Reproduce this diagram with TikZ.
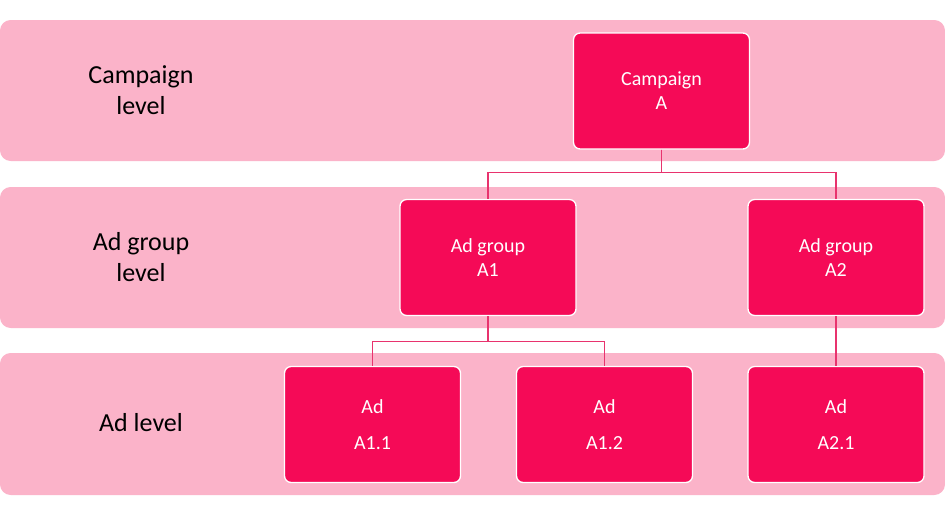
\documentclass[tikz,border=0pt]{standalone}
\usepackage{fontspec}
\setmainfont{Carlito}
\definecolor{band}{HTML}{FBB3C9}
\definecolor{boxc}{HTML}{F50A57}
\definecolor{linec}{HTML}{E8336E}
\begin{document}
\begin{tikzpicture}[x=0.75pt,y=-0.75pt,
  bandbox/.style={fill=band,draw=none,rounded corners=8pt},
  ent/.style={fill=boxc,draw=white,line width=1pt,rounded corners=5pt,minimum width=176*0.75pt,minimum height=116*0.75pt,text=white,align=center,font=\fontsize{15}{18}\selectfont},
  adent/.style={ent,font=\fontsize{15}{27}\selectfont},
  lvl/.style={align=center,font=\fontsize{19.5}{23}\selectfont},
  conn/.style={draw=linec,line width=1pt}]
\useasboundingbox (0,0) rectangle (945,515);
\fill[bandbox] (0,20) rectangle (945,161);
\fill[bandbox] (0,187) rectangle (945,328);
\fill[bandbox] (0,353) rectangle (945,495);
\node[lvl] (l1) at (141,90) {Campaign\\level};
\node[lvl] (l2) at (141,257) {Ad group\\level};
\node[lvl] (l3) at (141,423) {Ad level};
\node[ent] (ca) at (661.5,91) {Campaign\\A};
\node[ent] (a1) at (488,257.5) {Ad group\\A1};
\node[ent] (a2) at (836,257.5) {Ad group\\A2};
\node[adent] (a11) at (372.5,424.5) {Ad\\A1.1};
\node[adent] (a12) at (604.5,424.5) {Ad\\A1.2};
\node[adent] (a21) at (836,424.5) {Ad\\A2.1};
\draw[conn] (ca.south) -- ++(0,23) -| (a1.north);
\draw[conn] (ca.south) -- ++(0,23) -| (a2.north);
\draw[conn] (a1.south) -- ++(0,25) -| (a11.north);
\draw[conn] (a1.south) -- ++(0,25) -| (a12.north);
\draw[conn] (a2.south) -- (a21.north);
\end{tikzpicture}
\end{document}
